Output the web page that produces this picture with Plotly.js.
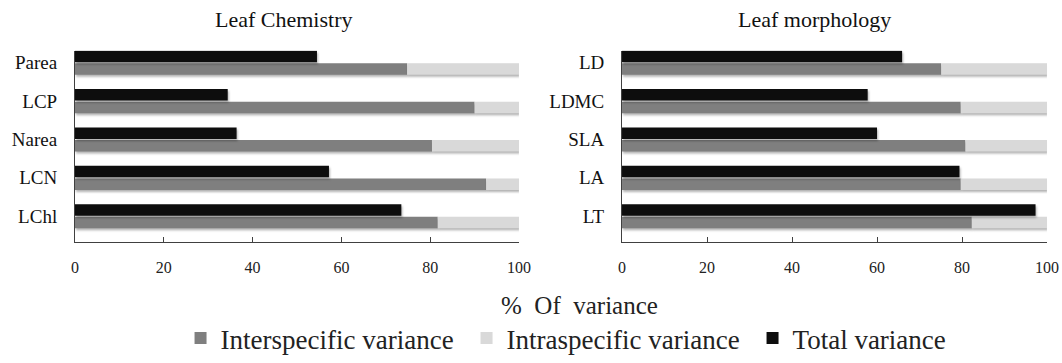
<!DOCTYPE html>
<html>
<head>
<meta charset="utf-8">
<script src="https://cdn.plot.ly/plotly-3.0.1.min.js"></script>
<style>
html, body { margin: 0; padding: 0; background: #fff; overflow: hidden; }
#chart { width: 1062px; height: 363px; }
.barlayer path { filter: drop-shadow(1px 2px 1px rgba(0,0,0,0.3)); }
</style>
</head>
<body>
<div id="chart"></div>
<script>
// Leaf Chemistry (top to bottom)
const chemTraits = ["Parea", "LCP", "Narea", "LCN", "LChl"];
const chemTotal  = [54.5, 34.4, 36.4, 57.2, 73.5];
const chemInter  = [74.8, 90.0, 80.4, 92.6, 81.7];
const chemIntra  = [25.2, 10.0, 19.6, 7.4, 18.3];

// Leaf morphology (top to bottom)
const morphTraits = ["LD", "LDMC", "SLA", "LA", "LT"];
const morphTotal  = [65.9, 57.8, 60.0, 79.4, 97.3];
const morphInter  = [75.1, 79.7, 80.8, 79.7, 82.3];
const morphIntra  = [24.9, 20.3, 19.2, 20.3, 17.7];

const xTicks = [0, 20, 40, 60, 80, 100];
const legendNames = ["Interspecific variance", "Intraspecific variance", "Total variance"];
const colors = ["#7f7f7f", "#d9d9d9", "#0d0d0d"];

const serif = "Liberation Serif";

function panel(traits, inter, intra, total, xa, ya, showLegend) {
  return [
    {type: "bar", orientation: "h", name: legendNames[0], y: traits, x: inter,
     base: 0, width: 0.30, offset: -0.315, marker: {color: colors[0]},
     xaxis: xa, yaxis: ya, showlegend: showLegend, legendgroup: "a", hoverinfo: "x+y"},
    {type: "bar", orientation: "h", name: legendNames[1], y: traits, x: intra,
     base: inter, width: 0.30, offset: -0.315, marker: {color: colors[1]},
     xaxis: xa, yaxis: ya, showlegend: showLegend, legendgroup: "b", hoverinfo: "x+y"},
    {type: "bar", orientation: "h", name: legendNames[2], y: traits, x: total,
     base: 0, width: 0.30, offset: 0.013, marker: {color: colors[2]},
     xaxis: xa, yaxis: ya, showlegend: showLegend, legendgroup: "c", hoverinfo: "x+y"}
  ];
}

const data = [].concat(
  panel(chemTraits, chemInter, chemIntra, chemTotal, "x", "y", true),
  panel(morphTraits, morphInter, morphIntra, morphTotal, "x2", "y2", false)
);

const xBase = {
  range: [0, 100], tickvals: xTicks, ticks: "inside", ticklen: 5, tickcolor: "#404040",
  showline: true, linecolor: "#404040", linewidth: 1, showgrid: false, zeroline: false,
  tickfont: {family: serif, size: 16, color: "#222"}, ticklabelstandoff: 11, fixedrange: true
};
const yBase = {
  type: "category", showline: true, linecolor: "#404040", linewidth: 1, showgrid: false,
  ticks: "", tickfont: {family: serif, size: 19, color: "#111"}, ticklabelstandoff: 13,
  domain: [0.3154, 0.8567], range: [-0.665, 4.317], fixedrange: true
};

const layout = {
  width: 1062, height: 363,
  margin: {l: 0, r: 0, t: 0, b: 0},
  paper_bgcolor: "#fff", plot_bgcolor: "#fff",
  barmode: "overlay",
  font: {family: serif, color: "#111"},
  xaxis: Object.assign({}, xBase, {domain: [0.0706, 0.4887], anchor: "y"}),
  yaxis: Object.assign({}, yBase, {anchor: "x", categoryorder: "array",
    categoryarray: chemTraits.slice().reverse()}),
  xaxis2: Object.assign({}, xBase, {domain: [0.5857, 0.9859], anchor: "y2"}),
  yaxis2: Object.assign({}, yBase, {anchor: "x2", categoryorder: "array",
    categoryarray: morphTraits.slice().reverse()}),
  showlegend: true,
  legend: {
    orientation: "h", x: 0.170, xanchor: "left", y: 0.040, yanchor: "middle",
    font: {family: serif, size: 27, color: "#222"}, traceorder: "normal",
    entrywidth: 241, entrywidthmode: "pixels", itemwidth: 30, bgcolor: "rgba(0,0,0,0)"
  },
  annotations: [
    {text: "Leaf Chemistry", x: 0.2670, y: 0.945, xref: "paper", yref: "paper",
     showarrow: false, xanchor: "center", yanchor: "middle",
     font: {family: serif, size: 22, color: "#111"}},
    {text: "Leaf morphology", x: 0.7665, y: 0.945, xref: "paper", yref: "paper",
     showarrow: false, xanchor: "center", yanchor: "middle",
     font: {family: serif, size: 22, color: "#111"}},
    {text: "%\u00a0 Of\u00a0 variance", x: 0.546, y: 0.135, xref: "paper", yref: "paper",
     showarrow: false, xanchor: "center", yanchor: "middle",
     font: {family: serif, size: 25, color: "#222"}}
  ]
};

Plotly.newPlot("chart", data, layout, {displayModeBar: false, staticPlot: true});
</script>
</body>
</html>
